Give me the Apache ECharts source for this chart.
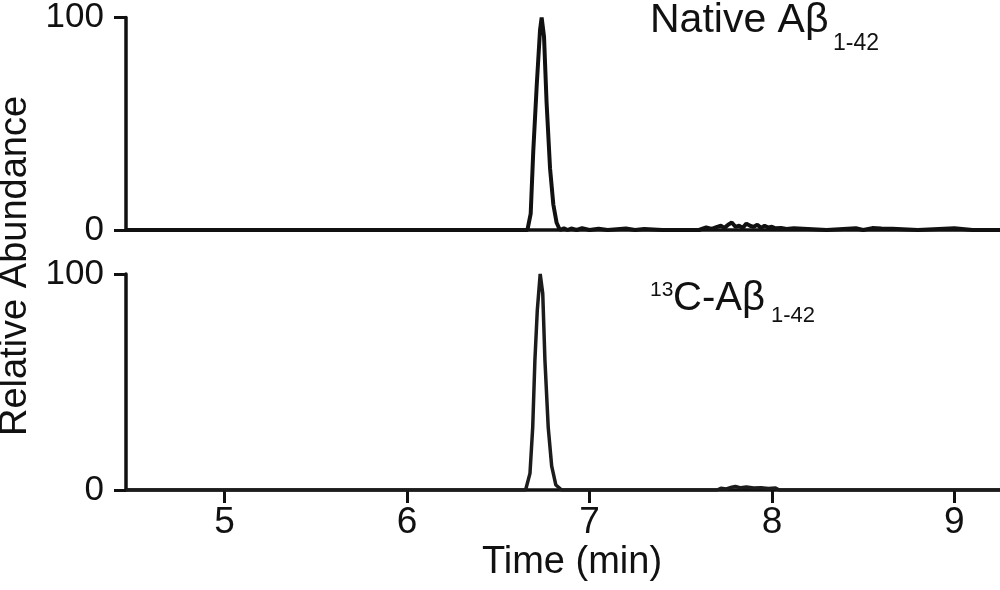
<!DOCTYPE html>
<html>
<head>
<meta charset="utf-8">
<script src="https://cdn.jsdelivr.net/npm/echarts@6/dist/echarts.min.js"></script>
<style>
    html, body { margin: 0; padding: 0; background: #fff; }
    #chart { width: 1000px; height: 590px; }
</style>
</head>
<body>
<div id="chart"></div>
<script>
    // Native Abeta 1-42 trace (time in min, relative abundance)
    var nativeTime = [4.46, 6.66, 6.667, 6.678, 6.692, 6.711, 6.729, 6.738, 6.751, 6.765, 6.784, 6.802, 6.82, 6.838,
        6.86, 6.88, 6.9, 6.93, 6.96, 7.0, 7.05, 7.1, 7.2, 7.25, 7.3, 7.4, 7.6,
        7.64, 7.67, 7.7, 7.72, 7.74, 7.76, 7.78, 7.8, 7.82, 7.84, 7.86, 7.88, 7.9, 7.92, 7.94, 7.96, 7.98, 8.0, 8.02, 8.05, 8.08, 8.12,
        8.3, 8.46, 8.5, 8.55, 8.6, 8.66, 8.8, 9.0, 9.1, 9.25];
    var nativeAbund = [0, 0, 0, 7.7, 37, 68, 94, 100, 91, 60, 29, 12, 3.4, 0,
        0.8, 0, 0.7, 0, 0.9, 0, 0.6, 0, 0.7, 0, 0.5, 0, 0,
        1.2, 0.5, 1.5, 2, 1, 2.5, 3.5, 1.5, 2, 1, 3, 2, 1.5, 2.5, 1, 2, 1.2, 1.5, 0.8, 1, 0.5, 0.8,
        0, 0.8, 0, 0.9, 0.7, 0.6, 0, 0.8, 0, 0];

    // 13C-Abeta 1-42 trace
    var labelTime = [4.46, 6.65, 6.652, 6.674, 6.689, 6.701, 6.714, 6.73, 6.744, 6.756, 6.774, 6.793, 6.816, 6.848,
        7.7, 7.72, 7.75, 7.78, 7.8, 7.83, 7.86, 7.9, 7.94, 7.98, 8.02, 8.04, 9.25];
    var labelAbund = [0, 0, 0, 7.7, 29, 60, 83, 100, 91, 60, 29, 11, 2.3, 0,
        0, 0.8, 0.5, 1.3, 1.6, 1, 1.4, 0.9, 1.1, 0.7, 0.9, 0, 0];

    var timeTicks = [5, 6, 7, 8, 9];
    var abundTicks = [0, 100];

    function zip(xs, ys) {
        return xs.map(function (x, i) { return [x, ys[i]]; });
    }

    var font = 'Liberation Sans, Arial, sans-serif';
    var ink = '#111';

    var chart = echarts.init(document.getElementById('chart'), null, { renderer: 'canvas' });

    function yAxisFor(idx) {
        return {
            type: 'value',
            gridIndex: idx,
            min: 0,
            max: 100,
            axisLine: { show: true, lineStyle: { color: ink, width: 3.5 } },
            axisTick: { show: true, length: 12, lineStyle: { color: ink, width: 3 }, customValues: abundTicks },
            axisLabel: { color: ink, fontFamily: font, fontSize: 35, margin: 22, customValues: abundTicks },
            splitLine: { show: false }
        };
    }

    chart.setOption({
        animation: false,
        backgroundColor: '#fff',
        grid: [
            { left: 126, right: 0, top: 14, height: 216 },
            { left: 126, right: 0, top: 274, height: 216 }
        ],
        xAxis: [
            {
                type: 'value', gridIndex: 0, min: 4.46, max: 9.25,
                axisLine: { lineStyle: { color: ink, width: 3.5 } },
                axisTick: { show: false },
                axisLabel: { show: false },
                splitLine: { show: false }
            },
            {
                type: 'value', gridIndex: 1, min: 4.46, max: 9.25,
                name: 'Time (min)',
                nameLocation: 'middle',
                nameGap: 54,
                nameTextStyle: { color: ink, fontFamily: font, fontSize: 38, padding: [0, 0, 0, 18] },
                axisLine: { lineStyle: { color: ink, width: 3.5 } },
                axisTick: { show: true, length: 13, lineStyle: { color: ink, width: 3 }, customValues: timeTicks },
                axisLabel: { color: ink, fontFamily: font, fontSize: 37, margin: 14, customValues: timeTicks },
                splitLine: { show: false }
            }
        ],
        yAxis: [yAxisFor(0), yAxisFor(1)],
        series: [
            {
                name: 'Native Aβ1-42',
                type: 'line',
                xAxisIndex: 0,
                yAxisIndex: 0,
                data: zip(nativeTime, nativeAbund),
                showSymbol: false,
                lineStyle: { color: ink, width: 4 }
            },
            {
                name: '13C-Aβ1-42',
                type: 'line',
                xAxisIndex: 1,
                yAxisIndex: 1,
                data: zip(labelTime, labelAbund),
                showSymbol: false,
                lineStyle: { color: '#1c1c1c', width: 3.5 }
            }
        ],
        graphic: [
            {
                type: 'text', x: 16, y: 266, rotation: Math.PI / 2,
                style: { text: 'Relative Abundance', fontFamily: font, fontSize: 38, fill: ink, align: 'center', verticalAlign: 'middle' }
            },
            {
                type: 'text', x: 650, y: 21,
                style: { text: 'Native Aβ', fontFamily: font, fontSize: 41, fill: ink, align: 'left', verticalAlign: 'middle' }
            },
            {
                type: 'text', x: 833, y: 44,
                style: { text: '1-42', fontFamily: font, fontSize: 23, fill: ink, align: 'left', verticalAlign: 'middle' }
            },
            {
                type: 'text', x: 650, y: 290,
                style: { text: '13', fontFamily: font, fontSize: 21, fill: ink, align: 'left', verticalAlign: 'middle' }
            },
            {
                type: 'text', x: 673, y: 299,
                style: { text: 'C-Aβ', fontFamily: font, fontSize: 40, fill: ink, align: 'left', verticalAlign: 'middle' }
            },
            {
                type: 'text', x: 771, y: 316,
                style: { text: '1-42', fontFamily: font, fontSize: 22, fill: ink, align: 'left', verticalAlign: 'middle' }
            }
        ]
    });
</script>
</body>
</html>
